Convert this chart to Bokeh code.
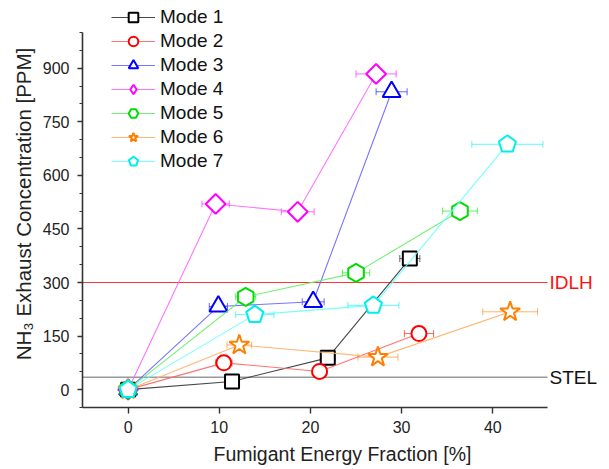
import numpy as np
from bokeh.plotting import figure
from bokeh.models import (Range1d, ColumnDataSource, Whisker, TeeHead, Label,
                          Legend, LegendItem, SingleIntervalTicker, FixedTicker)
from bokeh.embed import file_html
from bokeh.resources import INLINE

# ---- data ----
modes = ["Mode 1", "Mode 2", "Mode 3", "Mode 4", "Mode 5", "Mode 6", "Mode 7"]

m1_x = [0, 11.4, 21.9, 30.9]
m1_y = [0, 23, 89, 367]
m1_xerr = [0.0, 0.4, 0.8, 1.1]

m2_x = [0, 10.5, 21.0, 31.9]
m2_y = [0, 75, 51, 157]
m2_xerr = [0.0, 0.9, 0.8, 1.6]

m3_x = [0, 9.9, 20.3, 28.9]
m3_y = [0, 233, 246, 834]
m3_xerr = [0.0, 1.0, 1.2, 1.7]

m4_x = [0, 9.6, 18.6, 27.2]
m4_y = [0, 520, 498, 884]
m4_xerr = [0.0, 1.5, 1.8, 2.2]

m5_x = [0, 12.9, 25.0, 36.4]
m5_y = [0, 260, 327, 500]
m5_xerr = [0.0, 1.1, 1.5, 1.9]

m6_x = [0, 12.2, 27.4, 41.9]
m6_y = [0, 125, 91, 218]
m6_xerr = [0.0, 1.35, 2.2, 3.0]

m7_x = [0, 13.9, 26.9, 41.6]
m7_y = [0, 210, 236, 687]
m7_xerr = [0.0, 2.1, 2.8, 3.9]

y_err = [5, 12, 12, 12]

idlh = 300
stel = 35

x_ticks = [0, 10, 20, 30, 40]
x_axis_bounds = (-5, 46)
y_axis_bounds = (-50, 1000)

series_x = [m1_x, m2_x, m3_x, m4_x, m5_x, m6_x, m7_x]
series_y = [m1_y, m2_y, m3_y, m4_y, m5_y, m6_y, m7_y]
series_xerr = [m1_xerr, m2_xerr, m3_xerr, m4_xerr, m5_xerr, m6_xerr, m7_xerr]

colors = ["#000000", "#FF0000", "#0000FF", "#FF00FF", "#00DD00", "#FF8000", "#00EEEE"]
line_colors = ["#333333", "#FF6666", "#6666FF", "#FF66FF", "#66EE66", "#FFB066", "#66FFFF"]

FONT = "Liberation Sans"

# frame extends past the axis ends so the legend and the IDLH / STEL labels fit
p = figure(frame_width=520, frame_height=407,
           x_range=Range1d(-5, 52.03), y_range=Range1d(-50, 1089.6),
           output_backend="svg", toolbar_location=None,
           min_border_left=82, min_border_right=7, min_border_top=0, min_border_bottom=56)
p.grid.visible = False
p.outline_line_color = None
p.background_fill_color = "white"

p.xaxis.ticker = FixedTicker(ticks=x_ticks)
p.xaxis.bounds = x_axis_bounds
p.yaxis.ticker = SingleIntervalTicker(interval=150, num_minor_ticks=3)
p.yaxis.bounds = y_axis_bounds
for ax in (p.xaxis, p.yaxis):
    ax.axis_line_width = 1.6
    ax.axis_line_color = "#333333"
    ax.major_tick_line_color = "#333333"
    ax.major_tick_line_width = 1.4
    ax.minor_tick_line_color = "#333333"
    ax.minor_tick_line_width = 1.2
    ax.major_tick_in = 0
    ax.minor_tick_in = 0
    ax.major_label_text_font = FONT
    ax.major_label_text_font_size = "16px"
    ax.major_label_text_color = "#222222"
    ax.axis_label_text_font = FONT
    ax.axis_label_text_font_style = "normal"
    ax.axis_label_text_color = "#222222"
p.xaxis.axis_label_text_font_size = "19.5px"
p.yaxis.axis_label_text_font_size = "20.5px"
p.xaxis.major_tick_out = 6
p.xaxis.minor_tick_line_color = None
p.yaxis.major_tick_out = 5
p.yaxis.minor_tick_out = 3
p.xaxis.axis_label = "Fumigant Energy Fraction [%]"
p.yaxis.axis_label = "NH\u2083 Exhaust Concentration [PPM]"
p.xaxis.major_label_standoff = 7
p.yaxis.major_label_standoff = 8
p.xaxis.axis_label_standoff = 7
p.yaxis.axis_label_standoff = 5

# reference limit lines (span the axis extent)
p.line(list(x_axis_bounds), [stel, stel], line_color="#999999", line_width=1.5)
p.line(list(x_axis_bounds), [idlh, idlh], line_color="#FF3333", line_width=1)
p.add_layout(Label(x=x_axis_bounds[1], y=idlh, text="IDLH", x_offset=2, text_baseline="middle",
                   text_color="#FF1111", text_font=FONT, text_font_size="19px"))
p.add_layout(Label(x=x_axis_bounds[1], y=stel, text="STEL", x_offset=2, text_baseline="middle",
                   text_color="#111111", text_font=FONT, text_font_size="19px"))

items = []
for i in range(7):
    xs = np.array(series_x[i], dtype=float)
    ys = np.array(series_y[i], dtype=float)
    xe = np.array(series_xerr[i], dtype=float)
    ye = np.array(y_err, dtype=float)
    src = ColumnDataSource(dict(x=xs, y=ys, lo=xs - xe, hi=xs + xe, ylo=ys - ye, yhi=ys + ye))
    c = colors[i]
    lr = p.line("x", "y", source=src, line_color=line_colors[i], line_width=1.1, line_alpha=0.9)
    legend_r = None
    if i == 0:
        mr = p.scatter("x", "y", source=src, marker="square", size=14, fill_color="white",
                       line_color=c, line_width=2)
    elif i == 1:
        mr = p.scatter("x", "y", source=src, marker="circle", size=15, fill_color="white",
                       line_color=c, line_width=2)
    elif i == 2:
        mr = p.scatter("x", "y", source=src, marker="triangle", size=18, fill_color="white",
                       line_color=c, line_width=2)
    elif i == 3:
        # legend sample (legend glyphs ignore rotation); drawn at the shared origin point,
        # underneath the later series' markers
        legend_r = p.scatter(x=[m4_x[0]], y=[m4_y[0]], marker="diamond", size=14,
                             fill_color="white", line_color=c, line_width=2)
        mr = p.scatter("x", "y", source=src, marker="square", size=14, angle=np.pi / 4,
                       fill_color="white", line_color=c, line_width=2)
    elif i == 4:
        mr = p.scatter("x", "y", source=src, marker="hex", size=18, angle=np.pi / 6,
                       fill_color="white", line_color=c, line_width=2)
    elif i == 5:
        mr = p.scatter("x", "y", source=src, marker="star", size=21, fill_color="white",
                       line_color=c, line_width=2)
    else:
        mr = p.ngon("x", "y", radius=9, radius_units="screen", n=5, source=src,
                    fill_color="white", line_color=c, line_width=2)
    wx = Whisker(source=src, base="y", lower="lo", upper="hi", dimension="width",
                 line_color=c, line_alpha=0.6, line_width=1,
                 upper_head=TeeHead(size=7, line_color=c, line_alpha=0.6, line_width=1),
                 lower_head=TeeHead(size=7, line_color=c, line_alpha=0.6, line_width=1))
    wy = Whisker(source=src, base="x", lower="ylo", upper="yhi", dimension="height",
                 line_color=c, line_alpha=0.6, line_width=1,
                 upper_head=TeeHead(size=5, line_color=c, line_alpha=0.6, line_width=1),
                 lower_head=TeeHead(size=5, line_color=c, line_alpha=0.6, line_width=1))
    p.add_layout(wx)
    p.add_layout(wy)
    items.append(LegendItem(label=modes[i], renderers=[lr, legend_r if legend_r is not None else mr]))

legend = Legend(items=items, location=(29, 234), padding=0, margin=0,
                spacing=0, glyph_width=44, glyph_height=24, label_height=17,
                label_standoff=5, border_line_color=None, background_fill_alpha=0,
                label_text_font=FONT, label_text_font_size="19px", label_text_color="#111111")
p.add_layout(legend)

open("out.html", "w").write(file_html(p, INLINE))
